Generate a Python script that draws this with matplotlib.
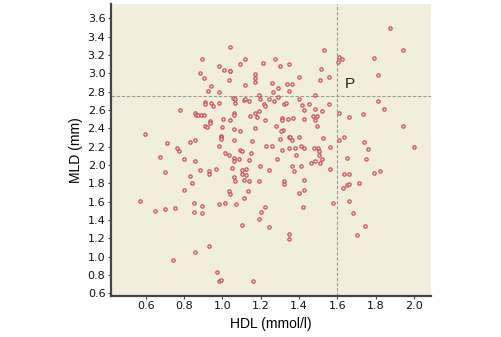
import matplotlib
matplotlib.use("Agg")
import matplotlib.pyplot as plt

plt.rcParams['font.family'] = ['Liberation Sans', 'DejaVu Sans']

# HDL (mmol/l) and MLD (mm)
hdl = [
    # upper left
    1.042, 0.891, 1.117, 0.983, 1.009, 1.038, 1.042, 1.093, 0.883, 1.171,
    1.171, 1.171, 0.903, 1.035, 0.942, 1.116, 0.924, 0.983, 1.193, 1.056,
    1.065, 1.067, 1.112, 1.119, 1.140, 0.910, 0.911, 0.942, 0.983, 0.951,
    0.778, 0.856, 0.862, 0.872, 0.886, 0.902, 1.062, 1.062, 1.168, 1.191,
    1.144, 1.180, 0.935, 0.935, 1.004, 1.038, 0.908, 0.922, 0.999, 1.062,
    1.091, 1.171, 0.991, 0.991, 0.991, 1.061, 0.831, 0.857, 1.152, 0.984,
    0.597, 0.710, 0.764, 0.775, 1.014, 1.033, 1.093, 1.104, 1.151, 1.058,
    1.087, 1.062, 0.801, 0.675,
    # lower left
    0.857, 0.831, 0.842, 0.801, 0.883, 0.931, 0.931, 0.969, 0.701, 0.851,
    0.895, 0.851, 0.894, 0.983, 1.013, 1.073, 1.114, 1.034, 1.040, 1.062,
    1.064, 1.052, 1.140, 1.123, 1.102, 1.103, 1.124, 1.114, 1.141, 1.132,
    1.194, 1.192, 1.191, 1.104, 0.856, 0.931, 0.571, 0.752, 0.649, 0.700,
    0.743, 0.973, 0.982, 0.992, 1.159, 1.201, 1.223, 1.241, 1.245,
    # upper middle
    1.213, 1.274, 1.300, 1.348, 1.515, 1.530, 1.401, 1.556, 1.509, 1.260,
    1.338, 1.361, 1.291, 1.349, 1.262, 1.484, 1.196, 1.291, 1.244, 1.270,
    1.401, 1.218, 1.223, 1.324, 1.333, 1.453, 1.557, 1.414, 1.427, 1.481,
    1.521, 1.471, 1.493, 1.309, 1.311, 1.343, 1.371, 1.427, 1.481, 1.220,
    1.281, 1.492, 1.316, 1.304, 1.401, 1.348, 1.355, 1.364, 1.301, 1.523,
    1.229, 1.260, 1.350, 1.380, 1.408, 1.426, 1.479, 1.501, 1.563, 1.312,
    1.505, 1.505, 1.383, 1.522, 1.285,
    # lower middle
    1.484, 1.510, 1.460, 1.411, 1.363, 1.561, 1.373, 1.323, 1.323, 1.427,
    1.427, 1.399, 1.421, 1.349, 1.349, 1.580,
    # right of the cut-off
    1.873, 1.944, 1.793, 1.607, 1.622, 1.602, 1.810, 1.814, 1.845, 1.734,
    1.661, 1.607, 1.944, 1.634, 1.607, 1.737, 1.998, 1.761, 1.652, 1.751,
    1.636, 1.661, 1.631, 1.652, 1.662, 1.713, 1.793, 1.822, 1.659, 1.681,
    1.744, 1.704,
]

mld = [
    3.29, 3.16, 3.16, 3.08, 3.04, 3.03, 3.02, 3.10, 3.00, 2.99,
    2.95, 2.91, 2.95, 2.93, 2.86, 2.87, 2.81, 2.80, 2.76, 2.73,
    2.72, 2.68, 2.71, 2.72, 2.70, 2.69, 2.67, 2.68, 2.68, 2.64,
    2.60, 2.57, 2.55, 2.54, 2.55, 2.55, 2.57, 2.55, 2.57, 2.59,
    2.53, 2.52, 2.48, 2.46, 2.50, 2.49, 2.43, 2.41, 2.41, 2.39,
    2.37, 2.40, 2.32, 2.30, 2.28, 2.27, 2.25, 2.27, 2.26, 2.21,
    2.34, 2.24, 2.19, 2.15, 2.13, 2.11, 2.16, 2.15, 2.13, 2.08,
    2.06, 2.04, 2.06, 2.09,
    2.04, 1.88, 1.80, 1.73, 1.94, 1.93, 1.90, 1.96, 1.92, 1.58,
    1.55, 1.49, 1.48, 1.57, 1.59, 1.57, 1.64, 1.72, 1.68, 1.87,
    1.83, 1.97, 2.05, 1.96, 1.94, 1.90, 1.89, 1.84, 1.82, 1.72,
    1.99, 1.83, 1.41, 1.34, 1.05, 1.11, 1.61, 1.53, 1.50, 1.52,
    0.96, 0.83, 0.73, 0.74, 0.73, 1.49, 1.54, 1.32, 1.95,
    3.11, 3.16, 3.08, 3.10, 3.05, 3.25, 2.96, 2.96, 2.93, 2.89,
    2.88, 2.88, 2.84, 2.81, 2.80, 2.76, 2.72, 2.74, 2.72, 2.70,
    2.72, 2.67, 2.64, 2.67, 2.68, 2.66, 2.67, 2.65, 2.60, 2.61,
    2.59, 2.53, 2.53, 2.51, 2.49, 2.50, 2.51, 2.50, 2.49, 2.49,
    2.42, 2.42, 2.38, 2.37, 2.31, 2.31, 2.30, 2.27, 2.28, 2.29,
    2.21, 2.21, 2.19, 2.18, 2.21, 2.18, 2.19, 2.19, 2.20, 2.16,
    2.15, 2.11, 2.11, 2.07, 2.06,
    2.04, 2.02, 2.02, 1.99, 1.99, 1.96, 1.93, 1.83, 1.79, 1.84,
    1.73, 1.69, 1.54, 1.25, 1.19, 1.59,
    3.50, 3.25, 3.17, 3.18, 3.16, 3.12, 2.98, 2.70, 2.61, 2.56,
    2.52, 2.57, 2.42, 2.30, 2.27, 2.25, 2.20, 2.17, 2.08, 2.06,
    1.90, 1.90, 1.75, 1.78, 1.79, 1.80, 1.91, 1.93, 1.61, 1.48,
    1.33, 1.24,
]

hdl_cut = 1.6
mld_cut = 2.75
x_ticks = [0.6, 0.8, 1.0, 1.2, 1.4, 1.6, 1.8, 2.0]
y_ticks = [0.6, 0.8, 1.0, 1.2, 1.4, 1.6, 1.8, 2.0, 2.2, 2.4, 2.6, 2.8,
           3.0, 3.2, 3.4, 3.6]

fig = plt.figure(figsize=(5.02, 3.37), dpi=100)
ax = fig.add_axes([0.221, 0.122, 0.6375, 0.866])
ax.set_facecolor('#f2eedc')

ax.axvline(hdl_cut, color='#9a9a9a', lw=0.8, dashes=(3, 1.6), zorder=1)
ax.axhline(mld_cut, color='#9a9a9a', lw=0.8, dashes=(3, 1.6), zorder=1)

ax.plot(hdl, mld, ls='none', marker='o', ms=2.4, mfc='#f3dcd8',
        mec='#c8424c', mew=0.8, zorder=3)

ax.text(1.64, 2.84, 'P', fontsize=11, color='#222222')

ax.set_xlim(0.418, 2.089)
ax.set_ylim(0.571, 3.756)
ax.set_xticks(x_ticks, labels=[f'{v:.1f}' for v in x_ticks])
ax.set_yticks(y_ticks, labels=[f'{v:.1f}' for v in y_ticks])

for lab in ax.get_xticklabels() + ax.get_yticklabels():
    lab.set_family(['Liberation Sans Narrow', 'DejaVu Sans'])
    lab.set_fontsize(8)

ax.spines[['top', 'right']].set_visible(False)
for side in ['left', 'bottom']:
    ax.spines[side].set_color('#454545')
    ax.spines[side].set_linewidth(1.6)
ax.tick_params(direction='out', length=2.5, width=0.8, color='#454545',
               pad=1.5, labelcolor='#111111')

ax.set_xlabel('HDL (mmol/l)', fontsize=10, labelpad=4)
ax.set_ylabel('MLD (mm)', fontsize=10, labelpad=3)

fig.savefig('out.png', dpi=100)
